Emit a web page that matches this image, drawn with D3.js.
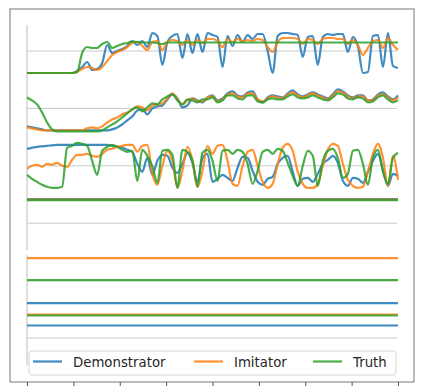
<!DOCTYPE html>
<html>
<head>
<meta charset="utf-8">
<script src="https://cdn.jsdelivr.net/npm/d3@7"></script>
<style>
  body { margin: 0; background: #fff; }
  svg { display: block; font-family: "DejaVu Sans", sans-serif; }
</style>
</head>
<body>
<svg id="chart" width="423" height="390"></svg>
<script>
// series names and colours
const seriesNames = ["Demonstrator", "Imitator", "Truth"];
const seriesColors = ["#1f77b4", "#ff7f0e", "#2ca02c"];
const xTicks = [0, 50, 100, 150, 200, 250, 300, 350, 400];

// panel 1
const p1Demo = [-2.2,-2.2,-2.2,-2.2,-2.2,-2.2,-2.2,-2.2,-2.2,-2.2,-2.0,-1.6,-1.1,-1.9,-1.8,-1.2,0.6,-0.2,0.0,0.2,
  0.5,1.0,0.6,1.0,0.4,1.8,1.5,-1.4,0.9,1.5,1.7,-0.7,1.7,-0.2,1.7,-0.1,1.8,1.6,1.4,-1.6,
  1.5,0.5,1.6,0.9,1.6,1.2,1.7,1.7,0.0,-2.2,1.5,1.8,1.8,1.7,1.6,-0.6,1.4,1.5,-1.4,1.4,
  1.7,1.6,1.7,1.7,-0.1,1.4,0.5,-2.2,-2.1,1.5,1.6,-1.6,1.8,-1.5,-1.7];
const p1Imit = [-2.2,-2.2,-2.2,-2.2,-2.2,-2.2,-2.2,-2.2,-2.2,-2.2,-2.1,-1.8,-1.6,-1.7,-1.9,-1.6,-1.0,-0.4,-0.1,0.1,
  0.4,0.8,0.9,0.5,0.1,0.9,1.0,0.1,0.9,1.1,1.0,0.6,1.1,0.6,1.1,0.8,1.2,1.2,1.0,0.4,
  1.2,0.9,1.2,1.0,1.1,1.0,1.2,1.1,0.4,-0.1,0.9,1.3,1.3,1.3,1.2,0.7,1.2,1.1,0.7,1.2,
  1.3,1.3,1.2,1.2,0.7,1.1,0.6,-0.4,0.3,1.0,1.1,0.3,1.3,0.6,0.1];
const p1Truth = [-2.2,-2.2,-2.2,-2.2,-2.2,-2.2,-2.2,-2.2,-2.2,-2.2,-2.1,-0.2,0.4,0.3,0.3,0.7,0.9,0.3,0.5,0.7,
  0.8,0.95,0.9,0.85,0.85,0.85,0.8,0.7,0.85,0.85,0.85,0.85,0.85,0.85,0.85,0.85,0.85,0.85,0.85,0.85,
  0.85,0.85,0.85,0.85,0.85,0.85,0.85,0.85,0.85,0.85,0.85,0.85,0.85,0.85,0.85,0.85,0.85,0.85,0.85,0.85,
  0.85,0.85,0.85,0.85,0.85,0.85,0.85,0.85,0.85,0.85,0.85,0.85,0.85,0.85,0.85];

// panel 2
const p2Demo = [-1.8,-1.9,-2.0,-2.1,-2.2,-2.2,-2.2,-2.2,-2.2,-2.2,-2.2,-2.2,-2.2,-2.2,-2.2,-2.2,-2.2,-2.1,-1.9,-1.6,
  -1.2,-0.8,-0.2,-0.1,-0.6,0.0,0.2,0.3,0.9,1.4,1.0,0.1,0.3,1.0,0.8,0.6,1.1,1.3,0.8,1.0,
  1.5,1.7,1.3,1.2,1.6,1.7,0.9,0.6,1.1,1.3,1.2,1.1,1.5,1.8,1.4,1.2,1.4,1.6,1.4,1.2,
  1.0,1.4,1.9,1.7,1.3,1.1,1.3,1.3,0.8,0.9,1.4,1.6,1.2,0.9,1.3];
const p2Imit = [-1.9,-2.0,-2.1,-2.2,-2.2,-2.2,-2.2,-2.2,-2.2,-2.2,-2.2,-2.2,-2.0,-1.9,-2.0,-1.8,-1.4,-1.1,-0.9,-0.6,
  -0.4,-0.1,0.2,0.1,-0.2,0.3,0.4,0.5,1.0,1.5,0.9,0.4,0.8,1.0,0.7,0.7,1.1,1.2,0.7,0.9,
  1.4,1.5,1.2,1.1,1.5,1.5,0.9,0.7,1.0,1.2,1.1,1.0,1.4,1.6,1.3,1.1,1.3,1.5,1.3,1.1,
  0.9,1.3,1.7,1.6,1.2,1.0,1.2,1.2,0.8,0.8,1.3,1.4,1.1,0.8,1.1];
const p2Truth = [1.1,0.8,0.4,-0.4,-1.4,-2.1,-2.3,-2.3,-2.3,-2.3,-2.3,-2.3,-2.3,-2.3,-2.3,-2.2,-1.9,-1.6,-1.3,-0.9,
  -0.5,-0.1,0.1,-0.3,0.1,0.5,0.4,0.9,1.2,1.4,0.8,0.4,0.9,0.8,0.6,0.9,0.9,1.1,0.6,0.8,
  1.3,1.3,1.0,0.9,1.3,1.3,0.7,0.6,0.9,1.0,0.9,0.9,1.2,1.4,1.1,1.0,1.1,1.3,1.1,0.9,
  0.8,1.1,1.5,1.4,1.0,0.9,1.1,1.0,0.6,0.7,1.1,1.3,0.9,0.6,0.8];

// panel 3
const p3Demo = [1.7,1.8,1.9,1.95,2.0,2.05,2.1,2.1,2.1,2.1,2.1,2.1,2.1,2.1,2.1,2.1,2.1,2.0,1.9,1.8,
  1.6,1.4,0.2,-0.6,0.8,-0.9,0.5,1.1,1.0,-0.2,-0.7,0.2,1.3,0.3,-1.6,0.8,1.2,-1.6,-1.3,-0.9,
  -1.2,-1.5,-0.2,0.9,0.8,-0.5,-1.6,-1.9,-1.3,-1.1,0.2,0.8,1.0,-0.6,-2.0,-1.3,-1.2,-1.6,-0.8,0.2,
  0.6,1.0,0.3,-1.5,-2.0,-1.2,-1.3,-1.7,-0.6,0.5,1.2,-0.4,-2.0,-0.8,-1.0];
const p3Imit = [-0.3,0.0,0.1,-0.1,0.2,0.1,0.3,0.0,-0.1,0.6,1.1,1.1,1.2,1.0,0.9,1.2,1.6,1.7,1.9,2.0,
  2.1,2.1,1.4,2.0,2.1,-0.8,-1.9,0.0,1.5,0.5,-2.2,-0.5,1.9,0.6,-2.1,-0.5,2.0,1.2,2.0,2.1,
  0.5,-1.8,-2.0,0.0,1.4,1.6,0.0,-1.6,-2.2,-1.8,0.2,1.8,2.2,1.5,-0.6,-1.8,-2.2,-2.2,-1.8,0.0,
  1.6,2.2,2.0,0.2,-1.4,-2.0,-2.2,-2.1,-0.6,1.2,2.2,0.8,-2.0,1.0,-1.4];
const p3Truth = [-0.9,-1.3,-1.6,-1.9,-2.1,-2.2,-2.2,-2.1,1.8,2.0,2.3,2.2,2.0,0.5,-0.9,1.5,1.9,2.1,1.9,1.6,
  1.4,1.5,-1.5,1.6,1.0,0.0,-1.7,1.5,1.6,1.1,-2.2,1.6,1.4,0.5,-2.1,1.3,1.6,0.5,-1.5,1.5,
  1.6,1.2,1.6,1.4,0.2,-1.8,-0.5,1.4,1.6,1.2,1.7,1.5,0.3,-1.0,-2.0,0.0,1.5,1.0,-2.0,0.5,
  1.5,1.7,0.8,-1.2,-0.8,1.5,1.6,0.2,-1.9,0.8,1.6,-0.6,-1.8,0.8,1.3];

// panels 4-6 hold constant values (Demonstrator, Imitator, Truth)
const p4Const = [2.4, 2.35, 2.3];
const p5Const = [-2.25, 2.25, 0.05];
const p6Const = [1.25, 2.35, 2.25];

const nSteps = p1Demo.length;
const constSeries = v => Array(nSteps).fill(v);

const panels = [
  [p1Demo, p1Imit, p1Truth],
  [p2Demo, p2Imit, p2Truth],
  [p3Demo, p3Imit, p3Truth],
  p4Const.map(constSeries),
  p5Const.map(constSeries),
  p6Const.map(constSeries)
];

const svg = d3.select("#chart");

// x scale shared by every panel
const x = d3.scaleLinear().domain([0, 400]).range([27, 398]);
const tOf = i => i * 400 / (nSteps - 1);

const firstGrid = 51, panelStep = 57.4, halfSpan = 30;

// left spine (two segments)
svg.append("line").attr("x1", 27).attr("x2", 27).attr("y1", 25).attr("y2", 250)
  .attr("stroke", "#c8c8c8").attr("stroke-width", 1.2);
svg.append("line").attr("x1", 27).attr("x2", 27).attr("y1", 255).attr("y2", 365)
  .attr("stroke", "#c8c8c8").attr("stroke-width", 1.2);

panels.forEach((series, k) => {
  const grid = firstGrid + k * panelStep;
  const y = d3.scaleLinear().domain([-3, 3]).range([grid + halfSpan, grid - halfSpan]);
  const g = svg.append("g");

  g.append("line")
    .attr("class", "grid")
    .attr("x1", x(0)).attr("x2", x(400) - 1)
    .attr("y1", y(0)).attr("y2", y(0))
    .attr("stroke", "#c8c8c8").attr("stroke-width", 1);

  const line = d3.line()
    .x((d, i) => x(tOf(i)))
    .y(d => y(d))
    .curve(d3.curveMonotoneX);

  g.selectAll(".series").data(series)
    .enter().append("path")
      .attr("class", "series")
      .attr("d", line)
      .attr("fill", "none")
      .attr("stroke", (d, i) => seriesColors[i])
      .attr("stroke-opacity", 0.85)
      .attr("stroke-width", 2.2)
      .attr("stroke-linejoin", "round");
});

// outer frame
svg.append("rect")
  .attr("x", 10).attr("y", 9)
  .attr("width", 404).attr("height", 373)
  .attr("fill", "none")
  .attr("stroke", "#8c8c8c").attr("stroke-width", 1.2);

// bottom ticks, no labels
const xAxis = svg.append("g")
  .attr("transform", "translate(0,382)")
  .call(d3.axisBottom(x).tickValues(xTicks).tickSize(4).tickFormat(""));
xAxis.select(".domain").remove();
xAxis.selectAll(".tick line").attr("stroke", "#555");

// legend
const legend = svg.append("g");
legend.append("rect")
  .attr("x", 29).attr("y", 351)
  .attr("width", 367).attr("height", 24)
  .attr("rx", 3)
  .attr("fill", "#fff").attr("fill-opacity", 0.8)
  .attr("stroke", "#d6d6d6");

const legendX = [33, 194, 313];
const legendItems = legend.selectAll(".item").data(seriesNames)
  .enter().append("g")
    .attr("class", "item")
    .attr("transform", (d, i) => `translate(${legendX[i]},361.5)`);
legendItems.append("line")
  .attr("x1", 0).attr("x2", 29)
  .attr("stroke", (d, i) => seriesColors[i])
  .attr("stroke-opacity", 0.85)
  .attr("stroke-width", 2.2);
legendItems.append("text")
  .attr("x", 40).attr("y", 5)
  .attr("font-size", "13.3px")
  .attr("fill", "#262626")
  .text(d => d);
</script>
</body>
</html>
